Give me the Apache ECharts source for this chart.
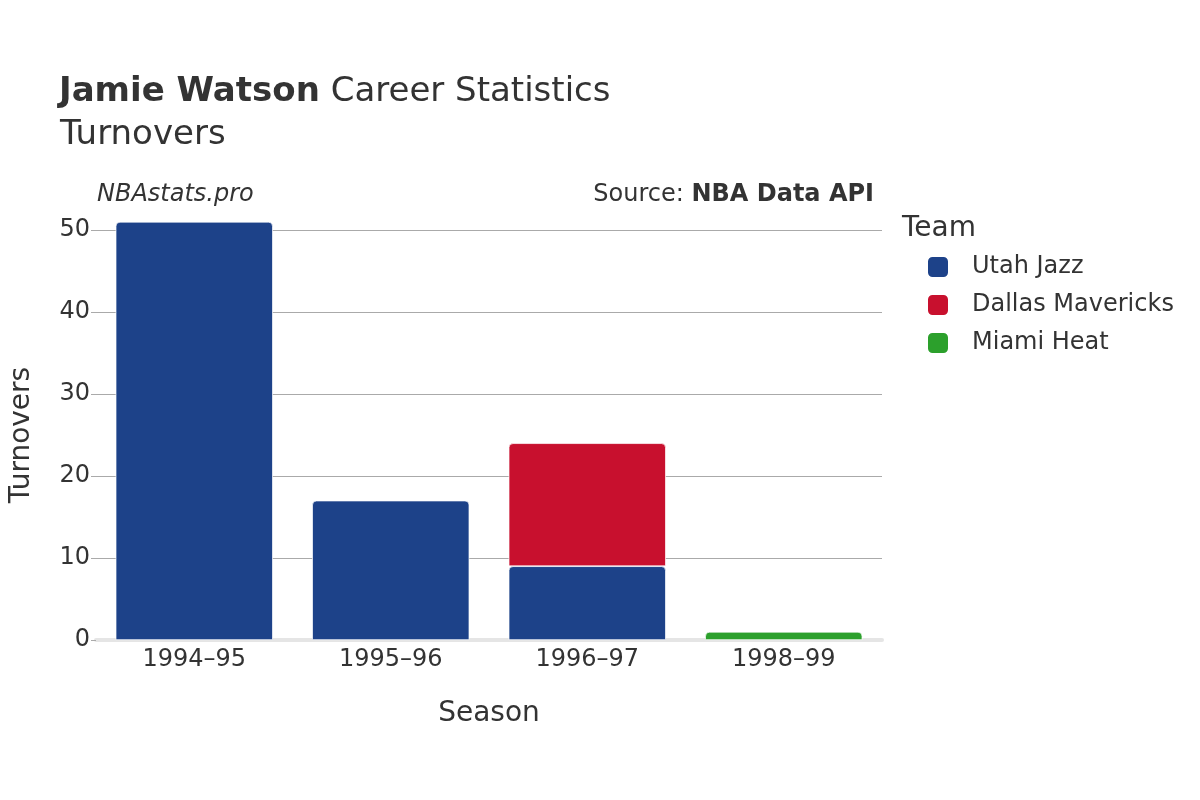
<!DOCTYPE html>
<html><head><meta charset="utf-8">
<script src="https://cdn.jsdelivr.net/npm/echarts@6/dist/echarts.min.js"></script>
<style>html,body{margin:0;background:#fff}#c{width:1200px;height:800px}</style>
</head><body><div id="c"></div>
<script>
const seasons = ['1994–95','1995–96','1996–97','1998–99'];
const utahJazz = [51,17,9,0];
const dallasMavericks = [0,0,15,0];
const miamiHeat = [0,0,0,1];
const yTicks = [0,10,20,30,40,50];
const teamColors = {'Utah Jazz':'#1d4289','Dallas Mavericks':'#c8102e','Miami Heat':'#2ca02c'};
const font = 'DejaVu Sans, Noto Sans, sans-serif';
const chart = echarts.init(document.getElementById('c'));
function mk(name, data){
  return {name, type:'bar', stack:'t', data:data.map(v=>v===0?null:v), barWidth:'80%', clip:false,
    itemStyle:{color:teamColors[name], borderColor:'#fff', borderWidth:0.7, borderRadius:[4,4,0,0]}};
}
chart.setOption({
  animation:false,
  textStyle:{fontFamily:font},
  title:[
    {text:'{b|Jamie Watson} Career Statistics', left:54, top:70, textStyle:{fontSize:34,fontWeight:'normal',color:'#333',fontFamily:font,rich:{b:{fontSize:34,fontWeight:'bold',color:'#333',fontFamily:font}}}},
    {text:'Turnovers', left:55, top:113, textStyle:{fontSize:34,fontWeight:'normal',color:'#333',fontFamily:font}},
    {text:'NBAstats.pro', left:92, top:178, textStyle:{fontSize:24,fontStyle:'italic',fontWeight:'normal',color:'#333',fontFamily:font}},
    {text:'Source: {b|NBA Data API}', right:321, top:178, textStyle:{fontSize:24,fontWeight:'normal',color:'#333',fontFamily:font,rich:{b:{fontSize:24,fontWeight:'bold',color:'#333',fontFamily:font}}}},
    {text:'Team', left:897, top:210, textStyle:{fontSize:28,fontWeight:'normal',color:'#333',fontFamily:font}}
  ],
  legend:{orient:'vertical', left:921, top:250, itemGap:14, itemWidth:22, itemHeight:22, icon:'roundRect',
    textStyle:{fontSize:24,color:'#333',fontFamily:font,padding:[0,0,0,18]},
    data:['Utah Jazz','Dallas Mavericks','Miami Heat']},
  grid:{left:91, right:318, top:230, bottom:160},
  xAxis:{type:'category', data:seasons, name:'Season', nameLocation:'middle', nameGap:60,
    nameTextStyle:{fontSize:28,color:'#333'},
    axisLine:{show:true,lineStyle:{color:'#e5e5e5',width:4}}, axisTick:{show:false},
    axisLabel:{fontSize:24,color:'#333',margin:8}},
  yAxis:{type:'value', min:0, max:50, interval:10, name:'Turnovers', nameLocation:'middle', nameGap:60,
    nameTextStyle:{fontSize:28,color:'#333'},
    axisLabel:{fontSize:24,color:'#333',margin:6,customValues:yTicks},
    axisTick:{show:true,length:5,lineStyle:{color:'#aaa'},customValues:yTicks},
    splitLine:{lineStyle:{color:'#aaa',width:1}}},
  series:[mk('Utah Jazz',utahJazz), mk('Dallas Mavericks',dallasMavericks), mk('Miami Heat',miamiHeat)]
});
</script></body></html>
